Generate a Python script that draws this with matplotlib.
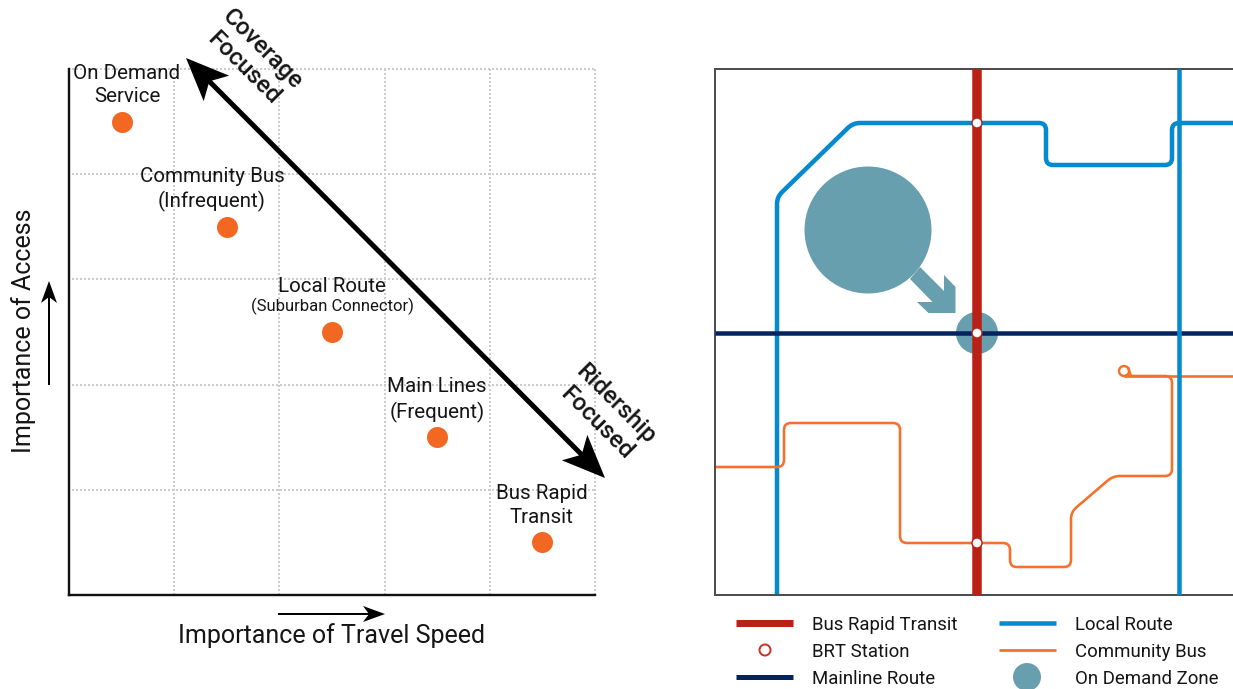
import matplotlib
matplotlib.use("Agg")
import matplotlib.pyplot as plt
import numpy as np
from matplotlib.patches import Circle, PathPatch, Polygon
from matplotlib.path import Path

plt.rcParams['font.family'] = ['Roboto', 'DejaVu Sans']

W, H = 1233, 689
PX = 0.72  # one pixel in points at dpi=100

ORANGE = '#f26722'
TEAL = '#689fae'
RED = '#b92117'
BLUE = '#068ace'
NAVY = '#02235f'
ROUTE_ORANGE = '#f4702c'
TEXT = '#151515'

# left chart (importance scale, 0-5 both ways)
service_x = [0.5, 1.5, 2.5, 3.5, 4.5]
service_y = [4.5, 3.5, 2.5, 1.5, 0.5]
service_labels = ['On Demand\nService', 'Community Bus\n(Infrequent)', 'Local Route',
                  'Main Lines\n(Frequent)', 'Bus Rapid\nTransit']
label_centers = [(127, 85), (212, 189.5), (332, 286.5), (437, 400), (542, 505.5)]
grid_ticks = [1, 2, 3, 4, 5]

# right map, in map units
local_main = [(777, 595), (777, 197), (853, 123), (1046, 123), (1046, 165),
              (1172, 165), (1172, 123), (1233, 123)]
local_second = [(1179, 69), (1179, 595)]
brt_line = [(977, 69), (977, 595)]
mainline = [(715, 333), (1233, 333)]
community_main = [(715, 467), (784, 467), (784, 423), (900, 423), (900, 543), (1010, 543),
                  (1010, 567), (1071, 567), (1071, 512), (1113, 476), (1172, 476),
                  (1172, 376), (1124, 376)]
community_tail = [(1124, 376), (1233, 376)]
community_stem = [(1128, 367), (1131, 376)]
community_loop = (1124, 371, 5)
stations = [(977, 123), (977, 333), (977, 543)]
zone_big = (868, 230, 63.5)
zone_small = (977, 333, 21)
zone_arrow = [(920, 267), (944, 291), (944, 275), (955.5, 287), (955.5, 313),
              (928.5, 313), (917, 302), (932.5, 302), (910, 279)]


def rounded_path(pts, r=7):
    # polyline with small rounded corners, like the original map
    pts = [np.array(p, dtype=float) for p in pts]
    verts = [pts[0]]
    codes = [Path.MOVETO]
    for a, b, c in zip(pts[:-2], pts[1:-1], pts[2:]):
        d1 = (a - b) / np.linalg.norm(a - b)
        d2 = (c - b) / np.linalg.norm(c - b)
        verts += [b + d1 * r, b, b + d2 * r]
        codes += [Path.LINETO, Path.CURVE3, Path.CURVE3]
    verts.append(pts[-1])
    codes.append(Path.LINETO)
    return Path(verts, codes)


def route(ax, pts, color, width, zorder=2):
    ax.add_patch(PathPatch(rounded_path(pts), fill=False, edgecolor=color, lw=width * PX,
                           capstyle='butt', zorder=zorder))


def stealth(ax, tip, direction, length, half_width, notch):
    # arrow head with a swept back tail
    d = np.array(direction, dtype=float)
    d /= np.linalg.norm(d)
    n = np.array([-d[1], d[0]])
    tip = np.array(tip, dtype=float)
    ax.add_patch(Polygon([tip, tip - d * length + n * half_width, tip - d * notch,
                          tip - d * length - n * half_width],
                         closed=True, color='black', lw=0, zorder=6))


fig = plt.figure(figsize=(W / 100, H / 100), dpi=100)

# left chart
ax = fig.add_axes([69 / W, 1 - 595 / H, 526 / W, 526 / H])
ax.set_xlim(0, 5)
ax.set_ylim(0, 5)
ax.set_xticks([])
ax.set_yticks([])
for s in ['top', 'right']:
    ax.spines[s].set_visible(False)
for s in ['left', 'bottom']:
    ax.spines[s].set_linewidth(2.4 * PX)
    ax.spines[s].set_color('#111111')
for t in grid_ticks:
    ax.plot([t, t], [0, 5], color='#cccccc', lw=2 * PX, ls=(0, (1, 1)), clip_on=False, zorder=1)
    ax.plot([0.03, 5], [t, t], color='#cccccc', lw=2 * PX, ls=(0, (1, 1)), clip_on=False, zorder=1)
ax.scatter(service_x, service_y, s=(21 * PX) ** 2, color=ORANGE, linewidths=0, zorder=3, clip_on=False)

# map
m = fig.add_axes([715 / W, 1 - 595 / H, 518 / W, 526 / H])
m.set_xlim(715, 1233)
m.set_ylim(595, 69)
m.set_xticks([])
m.set_yticks([])
m.spines['right'].set_visible(False)
for s in ['left', 'top', 'bottom']:
    m.spines[s].set_linewidth(2 * PX)
    m.spines[s].set_color('#4d4d4d')
m.add_patch(Circle(zone_big[:2], zone_big[2], color=TEAL, lw=0, zorder=1))
m.add_patch(Circle(zone_small[:2], zone_small[2], color=TEAL, lw=0, zorder=1))
m.add_patch(Polygon(zone_arrow, closed=True, color=TEAL, lw=0, zorder=1))
route(m, local_main, BLUE, 4.5)
route(m, community_main, ROUTE_ORANGE, 2.6)
route(m, community_tail, ROUTE_ORANGE, 2.6)
route(m, community_stem, ROUTE_ORANGE, 2.4)
m.add_patch(Circle(community_loop[:2], community_loop[2], fill=False, edgecolor=ROUTE_ORANGE, lw=2.4 * PX, zorder=2))
route(m, mainline, NAVY, 4.5, zorder=3)
route(m, local_second, BLUE, 4.5, zorder=4)
route(m, brt_line, RED, 9.5, zorder=5)
for sx, sy in stations:
    m.add_patch(Circle((sx, sy), 5, facecolor='white', edgecolor=RED, lw=1.4 * PX, zorder=6))

# page overlay for text, big arrow and legend, in image pixels
p = fig.add_axes([0, 0, 1, 1])
p.set_xlim(0, W)
p.set_ylim(H, 0)
p.axis('off')
p.patch.set_alpha(0)

for label, (cx, cy) in zip(service_labels, label_centers):
    p.text(cx, cy, label, ha='center', va='center', fontsize=14.8, color=TEXT, linespacing=1.3, zorder=7)
p.text(332, 306.5, '(Suburban Connector)', ha='center', va='center', fontsize=12, color=TEXT, zorder=7)

p.text(332, 636, 'Importance of Travel Speed', ha='center', va='center', fontsize=18, color=TEXT)
p.text(24, 331, 'Importance of Access', ha='center', va='center', rotation=90, fontsize=18, color=TEXT)
p.text(253, 59, 'Coverage\nFocused', ha='center', va='center', rotation=-45, rotation_mode='anchor',
       fontsize=17.5, fontweight='medium', color=TEXT, linespacing=1.2)
p.text(606, 414, 'Ridership\nFocused', ha='center', va='center', rotation=-45, rotation_mode='anchor',
       fontsize=17.5, fontweight='medium', color=TEXT, linespacing=1.2)

# big diagonal arrow
diag_a = (186, 58)
diag_b = (605, 478)
p.plot([diag_a[0] + 20, diag_b[0] - 20], [diag_a[1] + 20, diag_b[1] - 20], color='black', lw=5 * PX,
       solid_capstyle='butt', zorder=5)
stealth(p, diag_a, (-1, -1), 43, 18, 33)
stealth(p, diag_b, (1, 1), 43, 18, 33)

# small axis arrows
p.plot([278, 375], [614, 614], color='black', lw=2 * PX, solid_capstyle='butt')
stealth(p, (385, 614), (1, 0), 22, 8, 16)
p.plot([49, 49], [385, 290], color='black', lw=2 * PX, solid_capstyle='butt')
stealth(p, (49, 281), (0, -1), 22, 8, 16)

# legend
leg_rows = [623, 650, 677]
leg_left = ['Bus Rapid Transit', 'BRT Station', 'Mainline Route']
leg_right = ['Local Route', 'Community Bus', 'On Demand Zone']
for y, l, r in zip(leg_rows, leg_left, leg_right):
    p.text(812, y + 2, l, va='center', fontsize=13.4, color=TEXT)
    p.text(1075, y + 2, r, va='center', fontsize=13.4, color=TEXT)
p.plot([736, 793], [leg_rows[0]] * 2, color=RED, lw=7 * PX, solid_capstyle='butt')
p.add_patch(Circle((765, leg_rows[1]), 5.5, facecolor='white', edgecolor='#c8332a', lw=2 * PX))
p.plot([736, 793], [leg_rows[2]] * 2, color=NAVY, lw=5 * PX, solid_capstyle='butt')
p.plot([999, 1056], [leg_rows[0]] * 2, color=BLUE, lw=4.5 * PX, solid_capstyle='butt')
p.plot([999, 1056], [leg_rows[1]] * 2, color=ROUTE_ORANGE, lw=2.8 * PX, solid_capstyle='butt')
p.add_patch(Circle((1027, leg_rows[2]), 14, color=TEAL, lw=0))

fig.savefig('out.png', dpi=100)
plt.close(fig)
